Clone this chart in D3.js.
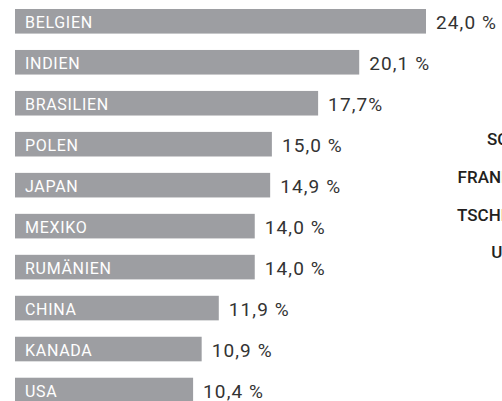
<!DOCTYPE html>
<html>
<head>
<meta charset="utf-8">
<script src="https://cdn.jsdelivr.net/npm/d3@7"></script>
<style>
  body { margin: 0; background: #fff; }
  svg { display: block; font-family: Roboto, "Open Sans", sans-serif; }
</style>
</head>
<body>
<div id="chart"></div>
<script>
// data
const countries = ["BELGIEN", "INDIEN", "BRASILIEN", "POLEN", "JAPAN", "MEXIKO", "RUMÄNIEN", "CHINA", "KANADA", "USA"];
const values = [24.0, 20.1, 17.7, 15.0, 14.9, 14.0, 14.0, 11.9, 10.9, 10.4];
const valueLabels = ["24,0 %", "20,1 %", "17,7%", "15,0 %", "14,9 %", "14,0 %", "14,0 %", "11,9 %", "10,9 %", "10,4 %"];
// labels of the neighbouring chart, cut off at the right edge
const sideLabels = ["SCHWEIZ", "FRANKREICH", "TSCHECHIEN", "UNGARN"];

const width = 502,
    height = 401;

const svg = d3.select("#chart")
    .append("svg")
    .attr("width", width)
    .attr("height", height);

const data = countries.map((c, i) => ({ country: c, value: values[i], label: valueLabels[i] }));

const x = d3.scaleLinear()
    .domain([0, 24])
    .range([15, 426]);

const y = d3.scaleBand()
    .domain(countries)
    .range([9, 402.3])
    .paddingInner(0.4)
    .paddingOuter(0);

const rows = svg.append("g")
    .selectAll("g")
    .data(data)
    .join("g")
    .attr("transform", d => `translate(0,${y(d.country)})`);

// bars
rows.append("rect")
    .attr("x", x(0))
    .attr("y", 0)
    .attr("width", d => x(d.value) - x(0))
    .attr("height", y.bandwidth())
    .attr("fill", "#9d9ea2");

// country names inside the bars
rows.append("text")
    .attr("x", x(0) + 10)
    .attr("y", y.bandwidth() / 2 + 6.5)
    .attr("fill", "#ffffff")
    .style("font-size", "16px")
    .style("letter-spacing", "0.7px")
    .text(d => d.country);

// values to the right
rows.append("text")
    .attr("x", d => x(d.value) + 10)
    .attr("y", y.bandwidth() / 2 + 7.5)
    .attr("fill", "#333333")
    .style("font-size", "19px")
    .style("letter-spacing", "1.1px")
    .text(d => d.label);

// second chart's labels (only partly visible, the reference crops them too)
const ySide = d3.scaleLinear()
    .domain([0, 3])
    .range([145, 258.3]);

svg.append("g")
    .selectAll("text")
    .data(sideLabels)
    .join("text")
    .attr("x", 560)
    .attr("y", (d, i) => ySide(i))
    .attr("text-anchor", "end")
    .attr("fill", "#231f20")
    .style("font-size", "17px")
    .style("font-weight", "500")
    .text(d => d);
</script>
</body>
</html>
